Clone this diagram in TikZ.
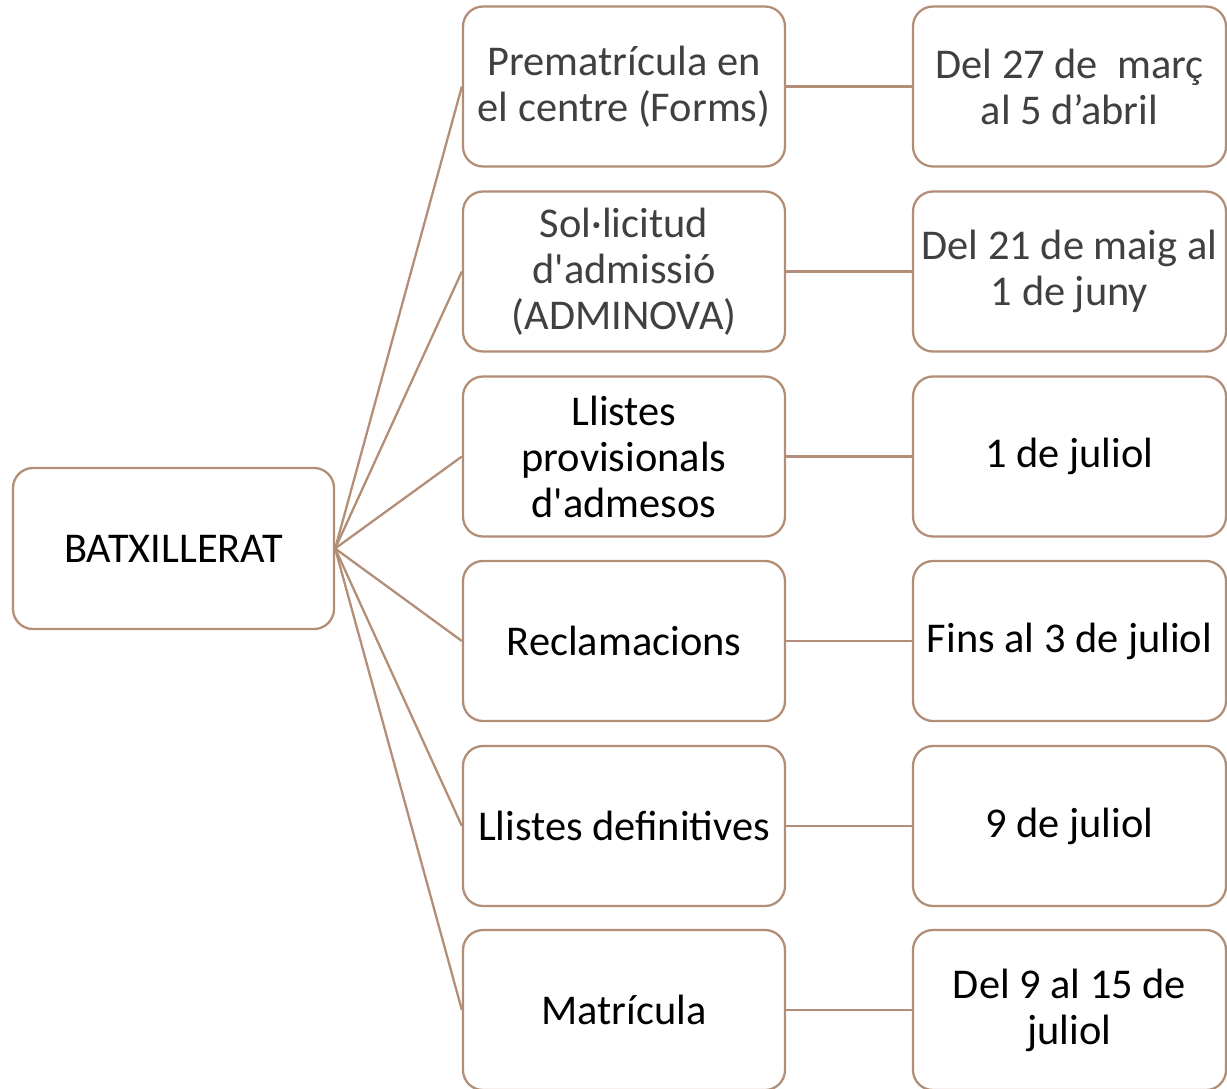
\documentclass[tikz,border=0pt]{standalone}
\usepackage{fontspec}
\setmainfont{Carlito}
\definecolor{tan}{RGB}{178,142,118}
\definecolor{gtext}{RGB}{64,64,64}
\tikzset{
  box/.style={draw=tan, line width=1.7pt, rounded corners=15pt, fill=white,
    align=center, inner sep=2pt, font=\fontsize{31.8}{34.5}\selectfont},
  rootbox/.style={box, minimum width=240.75pt, minimum height=120.75pt},
  midbox/.style={box, minimum width=241.5pt, minimum height=120pt},
  datebox/.style={box, minimum width=234.75pt, minimum height=120pt},
  link/.style={draw=tan, line width=1.7pt},
}
\begin{document}
\begin{tikzpicture}[x=0.75pt,y=-0.75pt]
\useasboundingbox (0,0) rectangle (1227,1088);
\clip (0,0) rectangle (1227,1088);
\node[rootbox] (root) at (173.5,548.5) {BATXILLERAT};
\node[midbox, text=gtext] (m1) at (624,86.5) {Prematrícula en\\el centre (Forms)};
\node[midbox, text=gtext] (m2) at (624,271.5) {Sol·licitud\\d\textquotesingle admissió\\(ADMINOVA)};
\node[midbox] (m3) at (624,456.5) {Llistes\\provisionals\\d\textquotesingle admesos};
\node[midbox] (m4) at (624,641) {Reclamacions};
\node[midbox] (m5) at (624,826) {Llistes definitives};
\node[midbox] (m6) at (624,1010) {Matrícula};
\node[datebox, text=gtext] (d1) at (1069.5,86.5) {Del 27 de~ març\\al 5 d’abril};
\node[datebox, text=gtext] (d2) at (1069.5,271.5) {Del 21 de maig al\\1 de juny};
\node[datebox] (d3) at (1069.5,456.5) {1 de juliol};
\node[datebox] (d4) at (1069.5,641) {Fins al 3 de juliol};
\node[datebox] (d5) at (1069.5,826) {9 de juliol};
\node[datebox] (d6) at (1069.5,1010) {Del 9 al 15 de\\juliol};
\foreach \i in {1,...,6} {
  \draw[link] (root.east) -- (m\i.west);
  \draw[link] (m\i.east) -- (d\i.west);
}
\end{tikzpicture}
\end{document}
